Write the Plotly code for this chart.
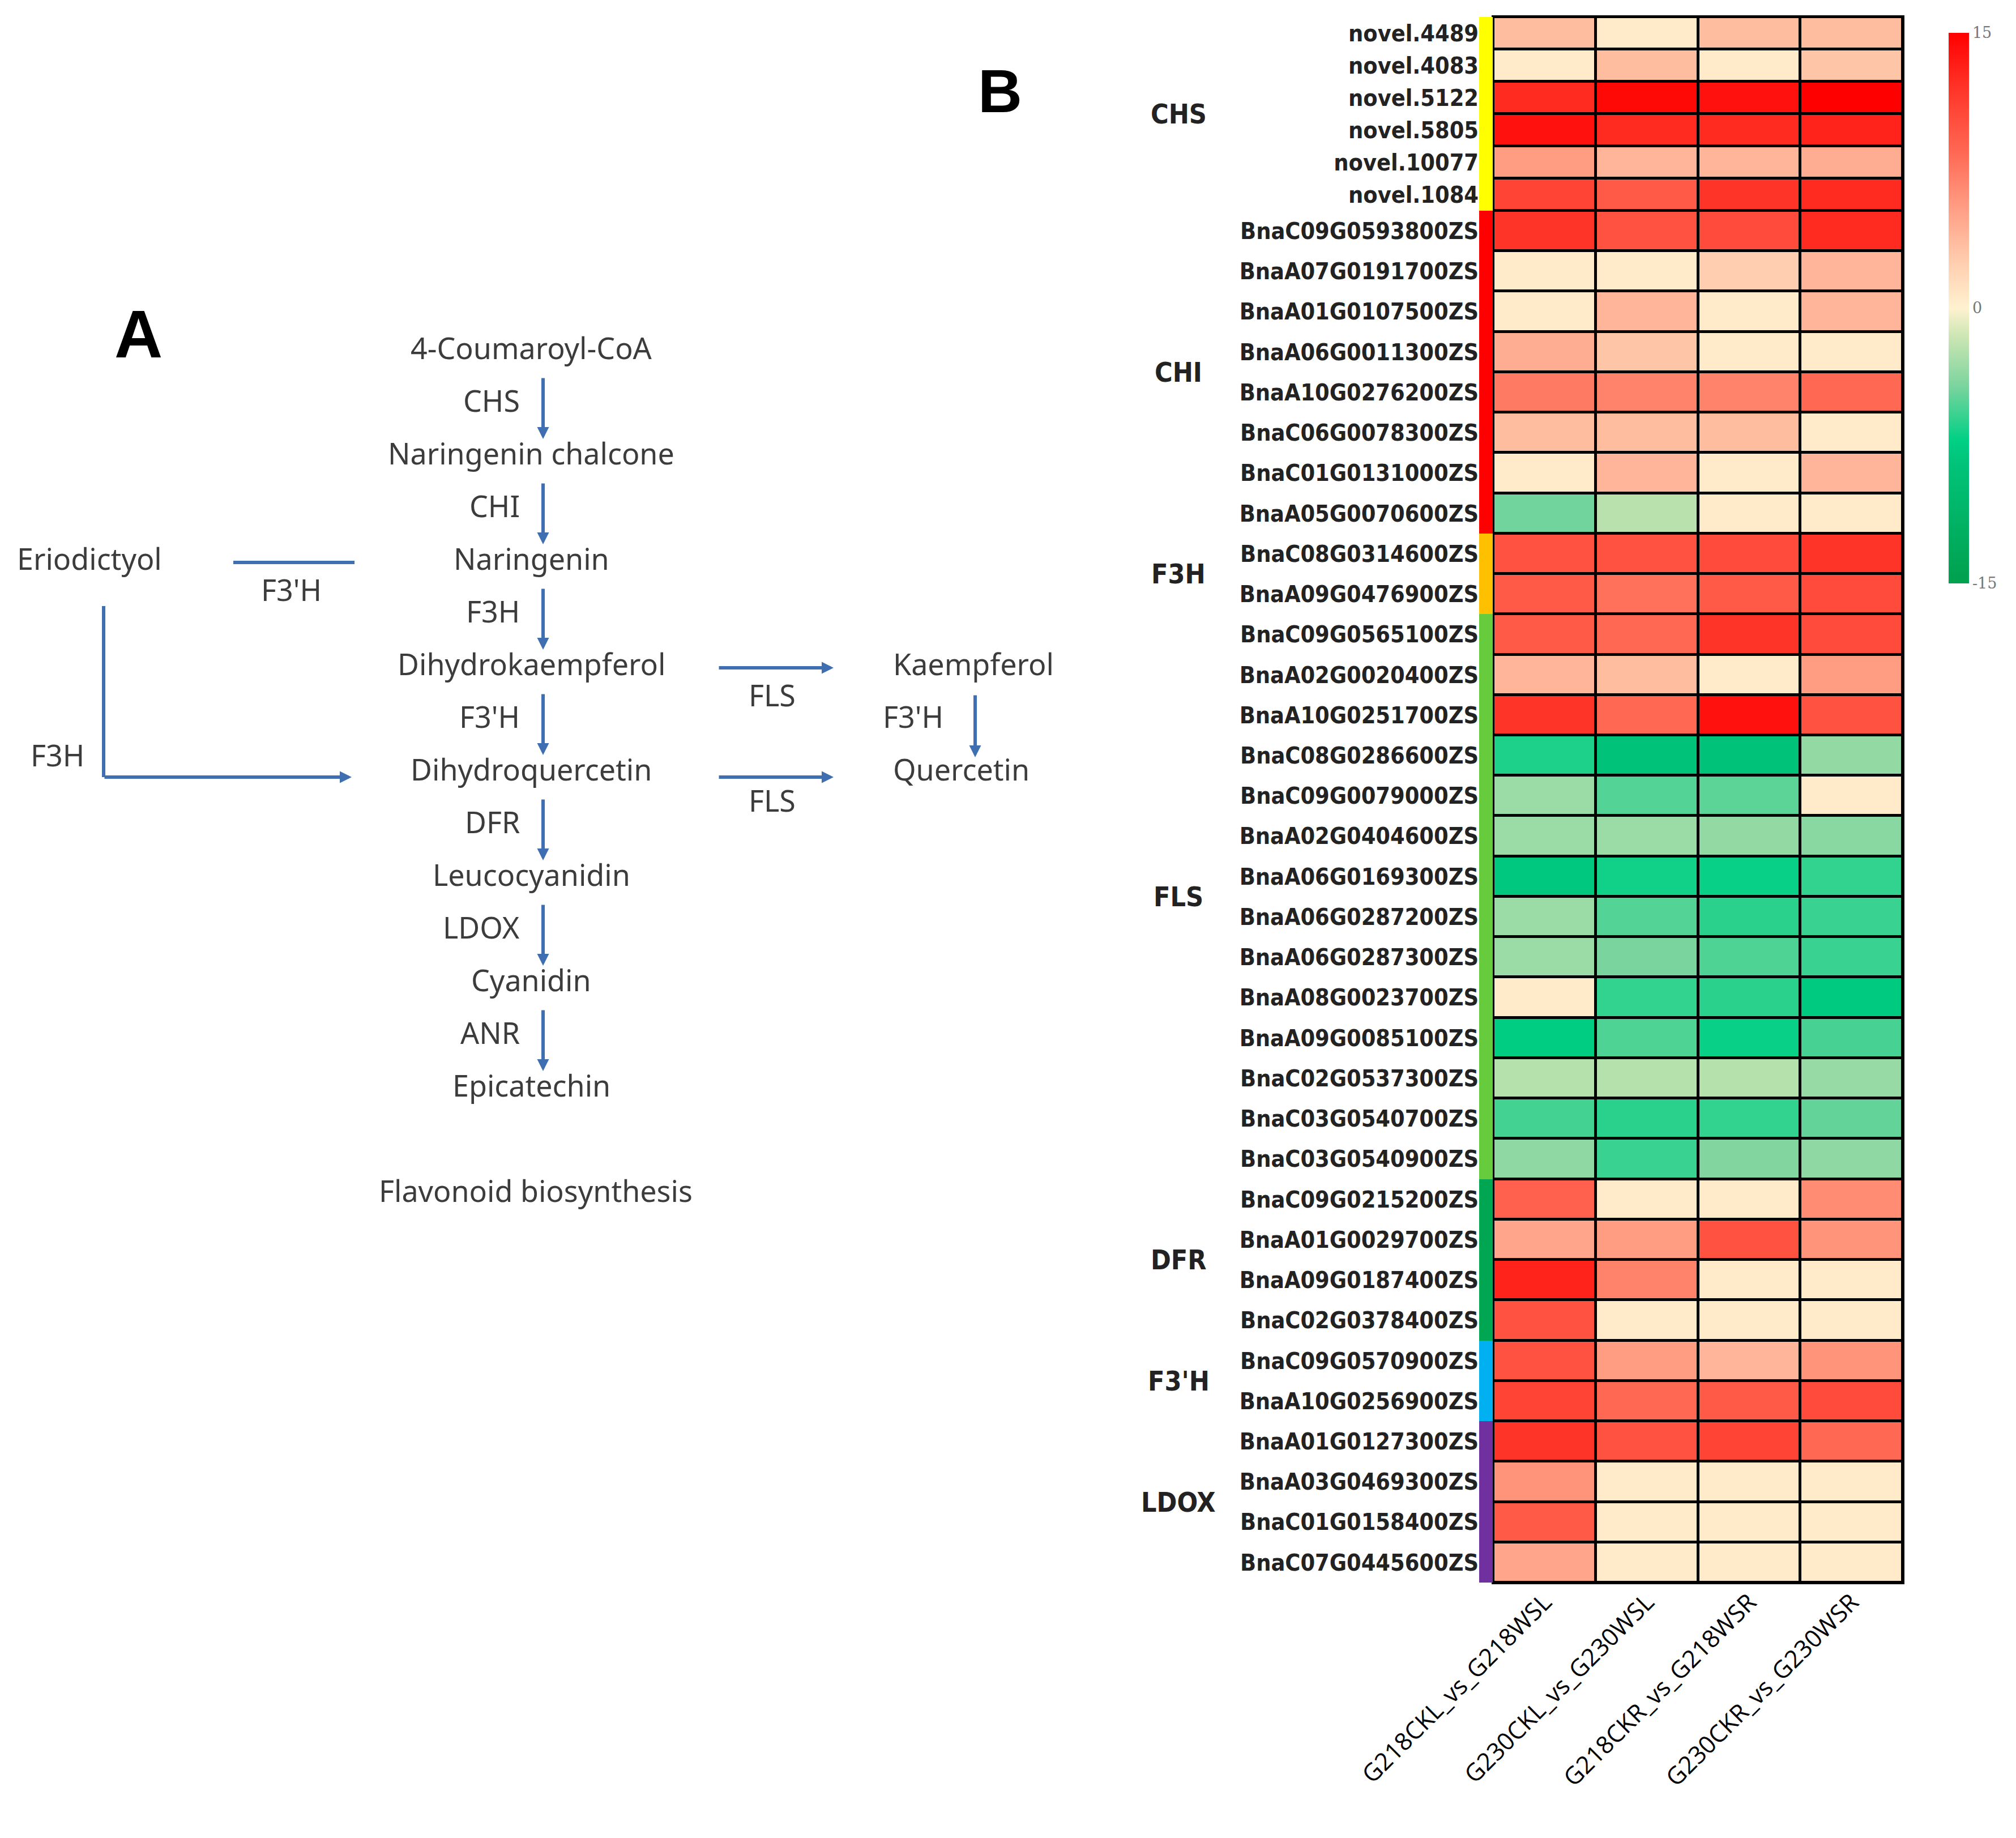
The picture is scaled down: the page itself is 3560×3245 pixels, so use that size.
import numpy as np
import plotly.graph_objects as go

# ---------------- data ----------------
genes = [
    "novel.4489", "novel.4083", "novel.5122", "novel.5805", "novel.10077", "novel.1084",
    "BnaC09G0593800ZS", "BnaA07G0191700ZS", "BnaA01G0107500ZS", "BnaA06G0011300ZS",
    "BnaA10G0276200ZS", "BnaC06G0078300ZS", "BnaC01G0131000ZS", "BnaA05G0070600ZS",
    "BnaC08G0314600ZS", "BnaA09G0476900ZS",
    "BnaC09G0565100ZS", "BnaA02G0020400ZS", "BnaA10G0251700ZS", "BnaC08G0286600ZS",
    "BnaC09G0079000ZS", "BnaA02G0404600ZS", "BnaA06G0169300ZS", "BnaA06G0287200ZS",
    "BnaA06G0287300ZS", "BnaA08G0023700ZS", "BnaA09G0085100ZS", "BnaC02G0537300ZS",
    "BnaC03G0540700ZS", "BnaC03G0540900ZS",
    "BnaC09G0215200ZS", "BnaA01G0029700ZS", "BnaA09G0187400ZS", "BnaC02G0378400ZS",
    "BnaC09G0570900ZS", "BnaA10G0256900ZS",
    "BnaA01G0127300ZS", "BnaA03G0469300ZS", "BnaC01G0158400ZS", "BnaC07G0445600ZS",
]
group_names = ["CHS", "CHI", "F3H", "FLS", "DFR", "F3'H", "LDOX"]
group_sizes = [6, 8, 2, 14, 4, 2, 4]
group_colors = ["#ffff00", "#ff0000", "#ffc000", "#66cc3d", "#00a651", "#00b0f0", "#7030a0"]

comparisons = ["G218CKL_vs_G218WSL", "G230CKL_vs_G230WSL", "G218CKR_vs_G218WSR", "G230CKR_vs_G230WSR"]

g218_leaf = [3.5, 0.5, 12.5, 14, 5.5, 11,
             12, 0.5, 0.5, 4.5, 7.5, 3.5, 0.5, -4.5,
             10, 9.5,
             9.5, 4, 12, -6.5, -3.2, -3.2, -8, -3.2, -3.2, 0.5, -7.5, -2.3, -5.6, -3.6,
             9, 5, 13, 10,
             10, 11,
             12, 6, 9.5, 5]
g230_leaf = [0.5, 3.5, 14.5, 12.5, 4, 9.5,
             10, 0.5, 4, 3, 7, 3.5, 4, -2.2,
             10, 8,
             8.5, 3.5, 8.5, -8.5, -5.2, -3.2, -6.8, -5.2, -4.3, -6, -5.3, -2.3, -6.2, -5.8,
             0.5, 5.5, 7, 0.5,
             5.5, 8.5,
             10, 0.5, 0.5, 0.5]
g218_root = [3.5, 0.5, 14, 12.5, 4, 12,
             10.5, 2.5, 0.5, 0.5, 7, 3.5, 0.5, 0.5,
             10.5, 9.5,
             12, 0.5, 14, -8.5, -5, -3.5, -7, -6.2, -5.3, -6.2, -7, -2.3, -6, -4,
             0.5, 10, 0.5, 0.5,
             4, 9.5,
             11, 0.5, 0.5, 0.5]
g230_root = [3.5, 3, 15, 13, 4.5, 12.5,
             12.5, 4, 4, 0.5, 8.5, 0.5, 4, 0.5,
             12, 10.5,
             10.5, 5.5, 10, -3.5, 0.5, -3.8, -6, -5.8, -5.8, -7.8, -5.5, -3.3, -4.8, -3.6,
             6.5, 6, 0.5, 0.5,
             6, 10.5,
             8.5, 0.5, 0.5, 0.5]

colorbar_ticks = [-15, 0, 15]

# pathway diagram content (panel A)
main_chain = ["4-Coumaroyl-CoA", "Naringenin chalcone", "Naringenin", "Dihydrokaempferol",
              "Dihydroquercetin", "Leucocyanidin", "Cyanidin", "Epicatechin"]
main_enzymes = ["CHS", "CHI", "F3H", "F3'H", "DFR", "LDOX", "ANR"]
pathway_title = "Flavonoid biosynthesis"

# ---------------- layout helpers ----------------
W, H = 3560, 3245
row_w = np.array([0.8 if g.startswith("novel") else 1.0 for g in genes])
edges = np.concatenate([[0.0], np.cumsum(row_w)])
centers = (edges[:-1] + edges[1:]) / 2

group_idx = np.repeat(np.arange(len(group_names)), group_sizes)
z = np.array([g218_leaf, g230_leaf, g218_root, g230_root]).T

colorscale = [
    [0.0, "#00a04e"], [0.22, "#00c47a"], [0.26, "#00d085"], [0.36, "#7dd49e"],
    [0.45, "#cde6b4"], [0.5, "#fff2d0"], [0.58, "#ffcfb0"], [0.68, "#ff9f85"],
    [0.78, "#ff6a55"], [0.9, "#ff3428"], [1.0, "#ff0000"],
]

n_g = len(group_names)
grp_scale = []
for i, c in enumerate(group_colors):
    grp_scale.append([i / n_g, c])
    grp_scale.append([(i + 1) / n_g, c])

narrow = "DejaVu Sans Condensed, Liberation Sans Narrow, sans-serif"

fig = go.Figure()
fig.add_trace(go.Heatmap(
    x=comparisons, y=edges, z=z, xaxis="x", yaxis="y",
    colorscale=colorscale, zmin=-15, zmax=15, xgap=5, ygap=5,
    colorbar=dict(x=0.9643, xanchor="left", y=1 - 50 / H, yanchor="top",
                  len=972, lenmode="pixels", thickness=36, thicknessmode="pixels",
                  tickvals=colorbar_ticks, ticktext=[str(t) for t in colorbar_ticks],
                  ticks="", outlinewidth=0, xpad=0, ypad=0,
                  tickfont=dict(family="DejaVu Serif", size=27, color="#777777")),
))
fig.add_trace(go.Heatmap(
    x=[0], y=edges, z=group_idx.reshape(-1, 1), xaxis="x2", yaxis="y",
    colorscale=grp_scale, zmin=-0.5, zmax=n_g - 0.5, showscale=False, hoverinfo="skip",
))

hm_x0, hm_x1 = 2629 / W, 3352 / W
hm_y0, hm_y1 = 1 - 2786 / H, 1 - 22 / H

fig.update_layout(
    width=W, height=H, margin=dict(l=0, r=0, t=0, b=0, autoexpand=False),
    paper_bgcolor="white", plot_bgcolor="white", showlegend=False,
    xaxis=dict(domain=[hm_x0, hm_x1], anchor="y", tickangle=-45, ticks="", automargin=False,
               showgrid=False, zeroline=False,
               tickfont=dict(family="Open Sans, sans-serif", size=43, color="black")),
    xaxis2=dict(domain=[2604 / W, 2628 / W], anchor="y", visible=False, automargin=False),
    yaxis=dict(domain=[hm_y0, hm_y1], anchor="x2", range=[edges[-1], 0], automargin=False,
               tickvals=centers, ticktext=genes, ticks="", showgrid=False, zeroline=False,
               tickfont=dict(family=narrow, size=41, color="#222222", weight="bold")),
    xaxis3=dict(domain=[0, 0.56], anchor="y3", range=[0, 0.56 * W], visible=False, automargin=False),
    yaxis3=dict(domain=[0, 1], anchor="x3", range=[H, 0], visible=False, automargin=False),
)

# black grid background + frame
fig.add_shape(type="rect", xref="x domain", yref="y domain", x0=0, x1=1, y0=0, y1=1,
              fillcolor="black", line=dict(color="black", width=6), layer="below")

# group labels
starts = np.concatenate([[0], np.cumsum(group_sizes)[:-1]])
for name, s, n in zip(group_names, starts, group_sizes):
    yc = (edges[s] + edges[s + n]) / 2
    fig.add_annotation(x=2073 / W, y=yc, xref="paper", yref="y", text=name, showarrow=False,
                       font=dict(family=narrow, size=48, color="#222222", weight="bold"))

# panel letters
fig.add_annotation(x=192 / W, y=1 - 514 / H, xref="paper", yref="paper", text="<b>A</b>",
                   showarrow=False, font=dict(family="Liberation Sans, Arial", size=118, color="black"))
fig.add_annotation(x=1758 / W, y=1 - 90 / H, xref="paper", yref="paper", text="<b>B</b>",
                   showarrow=False, font=dict(family="Liberation Sans, Arial", size=108, color="black"))

# ---------------- panel A pathway ----------------
txt_font = dict(family="Noto Sans, Open Sans, sans-serif", size=52, color="#3c3c3c")
blue = "#3f6fb0"
main_x, top_y, step = 930, 605, 186
arrow_x, enz_right = 951, 912
row_y = [top_y + i * step for i in range(len(main_chain) + 1)]


def label(x, y, t, anchor="center"):
    fig.add_annotation(x=x, y=y, xref="x3", yref="y3", text=t, showarrow=False,
                       xanchor=anchor, font=txt_font)


def arrow(x0, y0, x1, y1):
    fig.add_annotation(x=x1, y=y1, ax=x0, ay=y0, xref="x3", yref="y3", axref="x3", ayref="y3",
                       text="", showarrow=True, arrowhead=2, arrowsize=0.7, arrowwidth=6,
                       arrowcolor=blue, standoff=0, startstandoff=0)


def line(x0, y0, x1, y1):
    fig.add_shape(type="line", xref="x3", yref="y3", x0=x0, y0=y0, x1=x1, y1=y1,
                  line=dict(color=blue, width=6))


for i, c in enumerate(main_chain):
    label(main_x, row_y[i], c)
for i, e in enumerate(main_enzymes):
    label(enz_right, (row_y[i] + row_y[i + 1]) / 2, e, anchor="right")
    arrow(arrow_x, row_y[i] + 53, arrow_x, row_y[i + 1] - 24)
label(main_x + 8, row_y[8], pathway_title)

# Eriodictyol branch
label(150, row_y[2], "Eriodictyol")
line(404, row_y[2] + 8, 618, row_y[2] + 8)
label(506, row_y[2] + 55, "F3'H")
line(175, row_y[2] + 85, 175, row_y[4] + 15)
arrow(175, row_y[4] + 15, 613, row_y[4] + 15)
label(93, row_y[4] - 25, "F3H")

# FLS branch
arrow(1260, row_y[3] + 8, 1464, row_y[3] + 8)
label(1355, row_y[3] + 55, "FLS")
arrow(1260, row_y[4] + 15, 1464, row_y[4] + 15)
label(1355, row_y[4] + 55, "FLS")
label(1567, row_y[3], "Kaempferol", anchor="left")
label(1567, row_y[4], "Quercetin", anchor="left")
label(1660, (row_y[3] + row_y[4]) / 2, "F3'H", anchor="right")
arrow(1714, row_y[3] + 55, 1714, row_y[4] - 20)

fig.write_html("out.html")
